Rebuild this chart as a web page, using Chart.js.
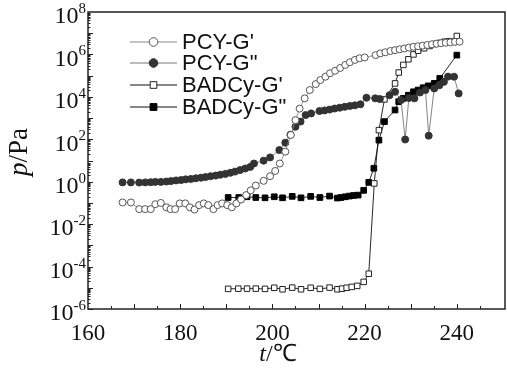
<!DOCTYPE html>
<html>
<head>
<meta charset="utf-8">
<script src="https://cdn.jsdelivr.net/npm/chart.js@4.4.1/dist/chart.umd.min.js"></script>
<style>
  html, body { margin: 0; padding: 0; background: #fff; }
</style>
</head>
<body>
<canvas id="graficaModulo" width="507" height="368"></canvas>
<script>
// Módulo (Pa) frente a temperatura (°C) para PCY y BADCy
const etiquetas = ["PCY-G'", 'PCY-G"', "BADCy-G'", 'BADCy-G"'];

const tPcyGp = [167.5, 169.3, 171.1, 172.4, 173.6, 174.6, 175.8, 177.0, 177.9, 178.9, 179.9, 181.1, 182.1, 183.1, 184.1, 185.1, 186.1, 187.2, 188.1, 189.1, 190.2, 191.2, 192.2, 193.2, 194.3, 195.3, 196.4, 198.1, 199.5, 200.6, 201.6, 202.8, 204.0, 205.0, 205.9, 207.0, 208.1, 209.4, 210.4, 211.5, 212.5, 213.6, 214.7, 215.8, 216.8, 217.9, 218.9, 220.0, 222.4, 223.4, 224.5, 225.6, 226.6, 227.6, 228.6, 229.6, 230.6, 231.6, 232.6, 233.6, 234.6, 235.6, 236.6, 237.6, 238.6, 239.6, 240.6];
const pcyGp = [0.105, 0.105, 0.051, 0.051, 0.051, 0.087, 0.10, 0.062, 0.051, 0.051, 0.095, 0.095, 0.062, 0.049, 0.079, 0.095, 0.079, 0.051, 0.079, 0.095, 0.079, 0.062, 0.095, 0.145, 0.234, 0.39, 0.66, 1.1, 1.82, 3.2, 7.2, 26, 160, 800, 2800, 8500, 2.1e4, 4.0e4, 6.2e4, 8.9e4, 1.3e5, 1.7e5, 2.3e5, 3.2e5, 4.3e5, 5.5e5, 6.6e5, 7.2e5, 9.3e5, 1.12e6, 1.26e6, 1.45e6, 1.58e6, 1.74e6, 1.9e6, 2.1e6, 2.3e6, 2.45e6, 2.6e6, 2.8e6, 3.0e6, 3.2e6, 3.4e6, 3.55e6, 3.7e6, 3.9e6, 4.0e6];

const tPcyGpp = [167.5, 169.3, 171.1, 172.4, 173.6, 174.6, 175.8, 177.0, 178.0, 179.1, 180.2, 181.2, 182.3, 183.4, 184.5, 185.5, 186.6, 187.7, 188.7, 189.8, 190.9, 191.9, 193.0, 194.1, 195.2, 196.0, 198.1, 199.5, 201.5, 202.8, 203.9, 205.0, 206.1, 207.2, 208.4, 210.2, 211.3, 212.4, 213.5, 214.6, 215.7, 216.8, 217.9, 219.1, 220.4, 222.3, 223.3, 225.4, 226.6, 227.9, 228.8, 229.6, 230.8, 232.0, 233.2, 233.9, 235.1, 236.2, 237.2, 238.1, 239.4, 240.4];
const pcyGpp = [0.93, 0.93, 0.91, 0.93, 0.95, 0.98, 0.98, 1.02, 1.07, 1.15, 1.2, 1.29, 1.35, 1.45, 1.55, 1.66, 1.82, 1.95, 2.14, 2.34, 2.63, 3.0, 3.55, 4.2, 5.0, 7.2, 9.8, 14, 31, 69, 162, 390, 680, 1380, 1660, 2140, 2290, 2510, 2820, 3090, 3390, 3720, 3980, 4470, 9100, 8500, 7900, 1.2e4, 1.74e4, 7100, 98, 8900, 8500, 1.6e4, 2.1e4, 148, 2.5e4, 3.5e4, 5.1e4, 9.0e4, 8.9e4, 1.45e4];

const tBadGp = [190.4, 192.6, 194.5, 196.4, 198.4, 200.4, 202.2, 204.3, 206.2, 208.3, 210.3, 212.4, 214.1, 215.1, 216.1, 217.2, 218.4, 219.8, 220.9, 222.1, 223.1, 224.3, 226.6, 227.4, 228.4, 229.5, 230.6, 231.6, 232.9, 234.1, 235.2, 236.3, 237.4, 238.4, 240.0];
const badGp = [8.9e-6, 9.1e-6, 9.1e-6, 9.1e-6, 8.9e-6, 1.0e-5, 8.5e-6, 1.02e-5, 8.5e-6, 1.0e-5, 8.9e-6, 1.02e-5, 8.5e-6, 9.1e-6, 1.0e-5, 1.1e-5, 1.23e-5, 1.9e-5, 4.6e-5, 0.83, 270, 7600, 4.3e4, 1.4e5, 3.2e5, 5.9e5, 1.0e6, 1.5e6, 1.95e6, 2.5e6, 3.1e6, 3.5e6, 4.0e6, 4.2e6, 7.4e6];

const tBadGpp = [190.4, 192.7, 194.5, 196.4, 198.4, 200.4, 202.2, 204.3, 206.2, 208.3, 210.3, 212.4, 214.1, 214.9, 215.8, 216.7, 217.6, 218.6, 219.8, 220.9, 222.0, 223.1, 224.3, 226.6, 227.4, 228.4, 229.5, 230.6, 231.6, 232.7, 233.8, 235.1, 236.3, 240.0];
const badGpp = [0.18, 0.18, 0.195, 0.18, 0.174, 0.195, 0.174, 0.204, 0.174, 0.204, 0.18, 0.21, 0.17, 0.18, 0.195, 0.21, 0.224, 0.234, 0.39, 0.93, 4.3, 91, 680, 2400, 5900, 8500, 1.2e4, 1.74e4, 2.1e4, 2.7e4, 3.3e4, 4.3e4, 7.4e4, 9.3e5];

const ticksX = [160, 180, 200, 220, 240];
const exponentesY = [-6, -4, -2, 0, 2, 4, 6, 8];

function puntos(ts, vs) {
  return ts.map((t, i) => ({ x: t, y: vs[i] }));
}

const serie = (label, ts, vs, estilo) => Object.assign({
  label: label,
  data: puntos(ts, vs),
  borderWidth: 0.9,
  pointBorderWidth: 1,
  tension: 0,
}, estilo);

// ejes con marcas hacia dentro, etiquetas 10^n y títulos
const ejes = {
  id: 'ejes',
  afterDraw(chart) {
    const { ctx, chartArea: a, scales: { x, y } } = chart;
    ctx.save();
    ctx.strokeStyle = '#222';
    ctx.lineWidth = 1.5;
    ctx.strokeRect(a.left, a.top, a.right - a.left + 3, a.bottom - a.top);

    ctx.lineWidth = 1;
    ctx.beginPath();
    for (let t = 165; t < 250; t += 5) {
      const px = Math.round(x.getPixelForValue(t)) + 0.5;
      const largo = t % 10 === 0 ? 5 : 3;
      ctx.moveTo(px, a.bottom);
      ctx.lineTo(px, a.bottom - largo);
    }
    for (let e = -6; e < 8; e++) {
      for (let m = 1; m <= 9; m++) {
        const v = m * Math.pow(10, e);
        const py = Math.round(y.getPixelForValue(v)) + 0.5;
        const largo = m === 1 ? 5 : 2.5;
        ctx.moveTo(a.left, py);
        ctx.lineTo(a.left + largo, py);
      }
    }
    ctx.stroke();

    ctx.fillStyle = '#111';
    exponentesY.forEach(e => {
      const py = y.getPixelForValue(Math.pow(10, e));
      const exp = (e < 0 ? '-' : '') + Math.abs(e);
      ctx.font = '15px "Liberation Serif"';
      const wExp = ctx.measureText(exp).width;
      const derecha = 86;
      ctx.textAlign = 'left';
      ctx.textBaseline = 'alphabetic';
      ctx.fillText(exp, derecha - wExp, py + 1);
      ctx.font = '24px "Liberation Serif"';
      ctx.textAlign = 'right';
      ctx.textBaseline = 'middle';
      ctx.fillText('10', derecha - wExp, py + 5);
    });

    // título eje x: t/℃
    ctx.font = 'italic 24px "Liberation Serif"';
    const wT = ctx.measureText('t').width;
    ctx.font = '24px "Liberation Serif"';
    const wResto = ctx.measureText('/℃').width;
    let x0 = 278 - (wT + wResto) / 2;
    ctx.textAlign = 'left';
    ctx.textBaseline = 'middle';
    ctx.font = 'italic 24px "Liberation Serif"';
    ctx.fillText('t', x0, 355);
    ctx.font = '24px "Liberation Serif"';
    ctx.fillText('/℃', x0 + wT, 355);

    // título eje y: p/Pa
    ctx.save();
    ctx.translate(20, 152);
    ctx.rotate(-Math.PI / 2);
    ctx.font = 'italic 27px "Liberation Serif"';
    const wP = ctx.measureText('p').width;
    ctx.font = '27px "Liberation Serif"';
    const wPa = ctx.measureText('/Pa').width;
    x0 = -(wP + wPa) / 2;
    ctx.font = 'italic 27px "Liberation Serif"';
    ctx.fillText('p', x0, 0);
    ctx.font = '27px "Liberation Serif"';
    ctx.fillText('/Pa', x0 + wP, 0);
    ctx.restore();

    // leyenda: línea, marcador y texto
    const filas = [42, 63, 85, 107];
    chart.data.datasets.forEach((ds, i) => {
      const fy = filas[i];
      ctx.strokeStyle = ds.borderColor;
      ctx.lineWidth = 1;
      ctx.beginPath();
      ctx.moveTo(130, fy);
      ctx.lineTo(177, fy);
      ctx.stroke();
      ctx.fillStyle = ds.pointBackgroundColor;
      ctx.strokeStyle = ds.pointBorderColor;
      ctx.lineWidth = 1;
      Chart.helpers.drawPoint(ctx, {
        pointStyle: ds.pointStyle,
        radius: ds.pointRadius + 0.8,
        rotation: 0,
        borderWidth: 1,
      }, 153.5, fy);
      ctx.fillStyle = '#111';
      ctx.font = '22px "Liberation Sans"';
      ctx.textAlign = 'left';
      ctx.textBaseline = 'middle';
      ctx.fillText(ds.label, 182, fy + 1);
    });
    ctx.restore();
  },
};

const ctx = document.getElementById('graficaModulo').getContext('2d');
const grafica = new Chart(ctx, {
  type: 'line',
  data: {
    datasets: [
      serie(etiquetas[0], tPcyGp, pcyGp, {
        borderColor: '#888',
        pointStyle: 'circle',
        pointRadius: 3.5,
        pointBackgroundColor: '#fff',
        pointBorderColor: '#555',
      }),
      serie(etiquetas[1], tPcyGpp, pcyGpp, {
        borderColor: '#777',
        pointStyle: 'circle',
        pointRadius: 3.5,
        pointBackgroundColor: '#333',
        pointBorderColor: '#333',
      }),
      serie(etiquetas[2], tBadGp, badGp, {
        borderColor: '#111',
        pointStyle: 'rect',
        pointRadius: 3.9,
        pointBackgroundColor: '#fff',
        pointBorderColor: '#222',
      }),
      serie(etiquetas[3], tBadGpp, badGpp, {
        borderColor: '#111',
        pointStyle: 'rect',
        pointRadius: 4,
        pointBackgroundColor: '#000',
        pointBorderColor: '#000',
      }),
    ],
  },
  options: {
    responsive: false,
    devicePixelRatio: 1,
    animation: false,
    layout: { padding: { top: 12, right: 0, left: 0, bottom: 0 } },
    plugins: {
      legend: { display: false },
      tooltip: { enabled: false },
    },
    scales: {
      x: {
        type: 'linear',
        min: 160,
        max: 249.8,
        grid: { display: false },
        border: { display: false },
        afterFit: s => { s.height = 59; },
        afterBuildTicks: s => { s.ticks = ticksX.map(v => ({ value: v })); },
        ticks: {
          color: '#111',
          padding: 3,
          maxRotation: 0,
          font: { family: 'Liberation Serif', size: 23 },
        },
      },
      y: {
        type: 'logarithmic',
        min: 1e-6,
        max: 1e8,
        grid: { display: false },
        border: { display: false },
        ticks: { display: false },
        afterFit: s => { s.width = 88; },
      },
    },
  },
  plugins: [ejes],
});
</script>
</body>
</html>
